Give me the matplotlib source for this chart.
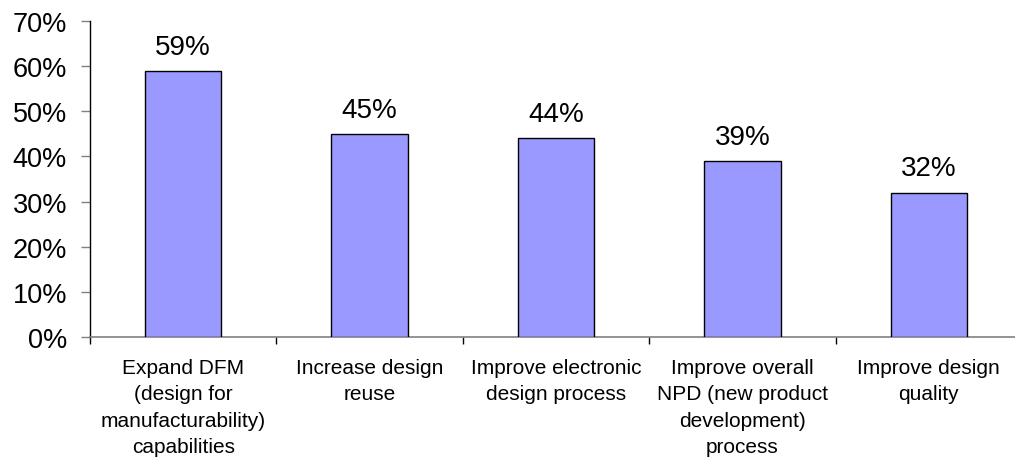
import matplotlib
matplotlib.use("Agg")
import matplotlib.pyplot as plt
from matplotlib.ticker import FixedLocator, FuncFormatter

categories = [
    "Expand DFM\n(design for\nmanufacturability)\ncapabilities",
    "Increase design\nreuse",
    "Improve electronic\ndesign process",
    "Improve overall\nNPD (new product\ndevelopment)\nprocess",
    "Improve design\nquality",
]
values = [59, 45, 44, 39, 32]
yticks = [0, 10, 20, 30, 40, 50, 60, 70]

plt.rcParams['font.family'] = ['Liberation Sans', 'DejaVu Sans']

fig = plt.figure(figsize=(10.15, 4.64), dpi=100)
ax = fig.add_axes([90/1015, 126/464, 932/1015, 316/464])

x = list(range(len(values)))
bars = ax.bar(x, values, width=0.41, color='#9999FF', edgecolor='black', linewidth=1.0, zorder=3)

for xi, v in zip(x, values):
    ax.annotate(f"{v}%", (xi, v), xytext=(0, 8), textcoords='offset points',
                ha='center', va='bottom', fontsize=20)

ax.set_xlim(-0.5, len(values) - 0.5)
ax.set_ylim(0, 70)
ax.set_yticks(yticks)
ax.yaxis.set_major_formatter(FuncFormatter(lambda v, p: f"{int(v)}%"))
ax.tick_params(axis='y', length=6.5, width=1, color='#808080', pad=10, labelsize=19.5, direction='out')

ax.set_xticks(x)
ax.set_xticklabels(categories, fontsize=15, linespacing=1.5, va='top')
ax.tick_params(axis='x', which='major', length=0, pad=15)
ax.xaxis.set_minor_locator(FixedLocator([i - 0.5 for i in range(len(values) + 1)]))
ax.tick_params(axis='x', which='minor', length=5, width=1, color='black', direction='out')

for s in ['top', 'right']:
    ax.spines[s].set_visible(False)
ax.spines['left'].set_color('black')
ax.spines['left'].set_linewidth(1)
ax.spines['bottom'].set_color('#808080')
ax.spines['bottom'].set_linewidth(1.2)

fig.savefig('out.png', dpi=100)
